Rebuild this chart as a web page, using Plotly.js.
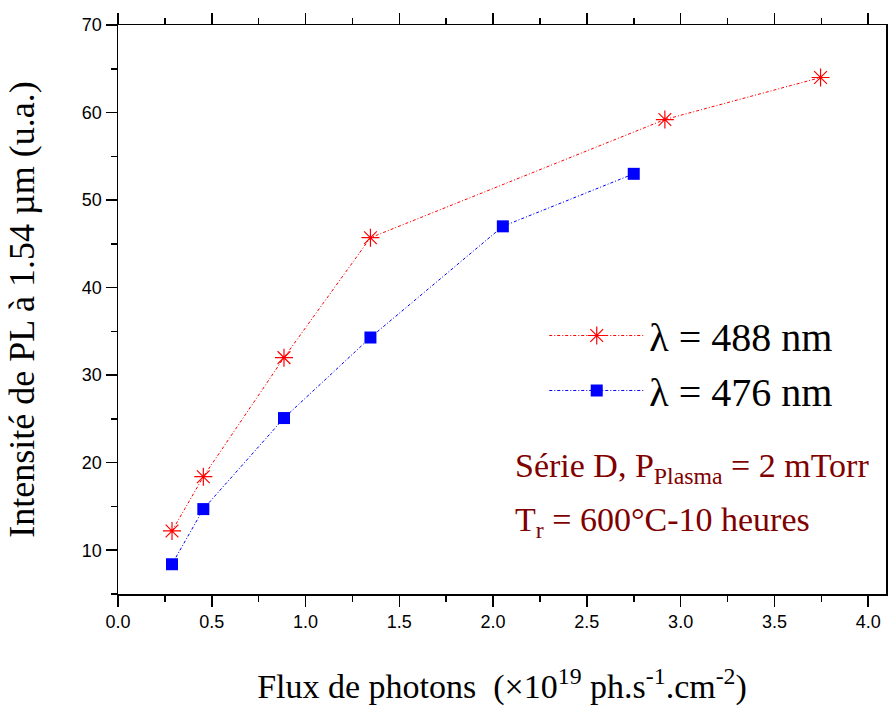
<!DOCTYPE html>
<html>
<head>
<meta charset="utf-8">
<script src="https://cdn.plot.ly/plotly-3.0.1.min.js"></script>
<style>html,body{margin:0;padding:0;background:#fff;}#chart{width:888px;height:706px;}</style>
</head>
<body>
<div id="chart"></div>
<script>
// Data
const flux488 = [0.288, 0.455, 0.885, 1.346, 2.916, 3.746];
const pl488   = [12.2, 18.4, 32.0, 45.7, 59.2, 64.0];
const flux476 = [0.288, 0.455, 0.885, 1.346, 2.052, 2.750];
const pl476   = [8.4, 14.7, 25.1, 34.3, 47.0, 53.0];
const seriesNames = ['\u03bb = 488 nm', '\u03bb = 476 nm'];
const xTickVals = [0, 0.5, 1.0, 1.5, 2.0, 2.5, 3.0, 3.5, 4.0];
const xTickText = ['0.0', '0.5', '1.0', '1.5', '2.0', '2.5', '3.0', '3.5', '4.0'];
const yTickVals = [10, 20, 30, 40, 50, 60, 70];

const serif = 'Liberation Serif';
const sans = 'Liberation Sans';

const traces = [
  {
    x: flux488, y: pl488, name: seriesNames[0], type: 'scatter', mode: 'lines+markers',
    line: {color: '#ff0000', width: 1, dash: '3px,2px,1px,2px'},
    marker: {symbol: 'asterisk-open', size: 15, color: '#ff0000', line: {color: '#ff0000', width: 1.2}}
  },
  {
    x: flux476, y: pl476, name: seriesNames[1], type: 'scatter', mode: 'lines+markers',
    line: {color: '#0000ff', width: 1, dash: '3px,2px,1px,2px'},
    marker: {symbol: 'square', size: 12, color: '#0000ff'}
  }
];

const axisCommon = {
  showgrid: false, zeroline: false, showline: true, linecolor: '#000', linewidth: 1.5,
  mirror: 'allticks', ticks: 'outside', ticklen: 11, tickwidth: 1.5, tickcolor: '#000',
  tickfont: {family: sans, size: 18, color: '#000'},
  minor: {ticks: 'outside', ticklen: 6, tickwidth: 1.5, tickcolor: '#000'}
};

const layout = {
  width: 888, height: 706,
  margin: {l: 118, r: 2, t: 25, b: 112},
  paper_bgcolor: '#fff', plot_bgcolor: '#fff',
  showlegend: true,
  legend: {
    x: 0.555, y: 0.406, xanchor: 'left', yanchor: 'middle',
    bgcolor: 'rgba(0,0,0,0)', borderwidth: 0,
    font: {family: serif, size: 40, color: '#000'},
    itemwidth: 95, tracegroupgap: 0
  },
  xaxis: Object.assign({}, axisCommon, {
    range: [0, 4.095], tickvals: xTickVals, ticktext: xTickText,
    minor: Object.assign({}, axisCommon.minor, {dtick: 0.25, tick0: 0}),
    title: {text: 'Flux de photons\u00a0 (\u00d710<sup>19</sup> ph.s<sup>-1</sup>.cm<sup>-2</sup>)',
            font: {family: serif, size: 34, color: '#000'}, standoff: 44}
  }),
  yaxis: Object.assign({}, axisCommon, {
    range: [5, 70], tickvals: yTickVals,
    minor: Object.assign({}, axisCommon.minor, {dtick: 5, tick0: 0}),
    title: {text: 'Intensit\u00e9 de PL \u00e0 1.54 \u00b5m (u.a.)',
            font: {family: serif, size: 36, color: '#000'}, standoff: 36}
  }),
  annotations: [
    {xref: 'paper', yref: 'paper', x: 0.514, y: 0.221, xanchor: 'left', yanchor: 'middle', showarrow: false,
     text: 'S\u00e9rie D, P<sub>Plasma</sub> = 2 mTorr', font: {family: serif, size: 34, color: '#800000'}},
    {xref: 'paper', yref: 'paper', x: 0.514, y: 0.126, xanchor: 'left', yanchor: 'middle', showarrow: false,
     text: 'T<sub>r</sub> = 600\u00b0C-10 heures', font: {family: serif, size: 34, color: '#800000'}}
  ]
};

Plotly.newPlot('chart', traces, layout, {displayModeBar: false, staticPlot: true});
</script>
</body>
</html>
